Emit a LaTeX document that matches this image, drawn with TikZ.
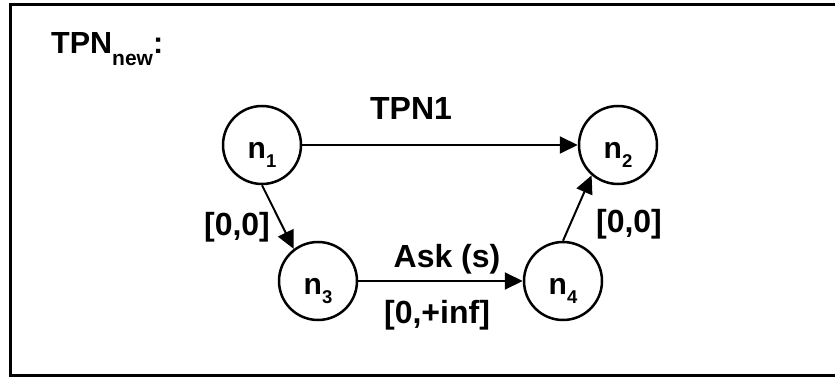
\documentclass[tikz,border=0pt]{standalone}
\usepackage{fontspec}
\setmainfont{Liberation Sans}
\usetikzlibrary{arrows.meta}
% lowered, smaller index text
\newcommand\lowsub[1]{\raisebox{-9.5pt}{\fontsize{18.5}{18.5}\selectfont #1}}
\newcommand\titlesub[1]{\raisebox{-12pt}{\fontsize{21}{21}\selectfont #1}}
\begin{document}
\begin{tikzpicture}[x=1pt,y=-1pt,
  every node/.style={font=\bfseries\fontsize{32}{36}\selectfont},
  place/.style={circle,draw,line width=2.5pt,minimum size=78pt,inner sep=0pt,
                font=\bfseries\fontsize{30}{34}\selectfont,
                text height=30pt,text depth=4pt},
  arc/.style={line width=2pt,-{Triangle[length=18pt,width=17pt]}},
  lbl/.style={anchor=base,inner sep=0pt}]
\useasboundingbox (0,0) rectangle (835,377);
\clip (0,0) rectangle (835,377);
% outer frame
\draw[line width=3pt] (10.5,4.5) rectangle (840,375.5);

% places
\node[place] (n1) at (262,145) {n\lowsub{1}};
\node[place] (n2) at (618,145) {n\lowsub{2}};
\node[place] (n3) at (318,281) {n\lowsub{3}};
\node[place] (n4) at (563,281) {n\lowsub{4}};

% arcs
\draw[arc] (n1) -- (n2);
\draw[arc] (n3) -- (n4);
\draw[arc] (n1.270) -- (n3.127);
\draw[arc] (n4.90) -- (n2.229);

% labels
\node[lbl,anchor=base west,font=\bfseries\fontsize{30.5}{34}\selectfont]
  (title) at (51,54) {TPN\titlesub{new}:};
\node[lbl] (t1) at (411,120) {TPN1};
\node[lbl] (ask) at (447,267) {Ask (s)};
\node[lbl] (inf) at (437,323) {[0,+inf]};
\node[lbl] (d1) at (237,235) {[0,0]};
\node[lbl] (d2) at (629,232) {[0,0]};
\end{tikzpicture}
\end{document}
